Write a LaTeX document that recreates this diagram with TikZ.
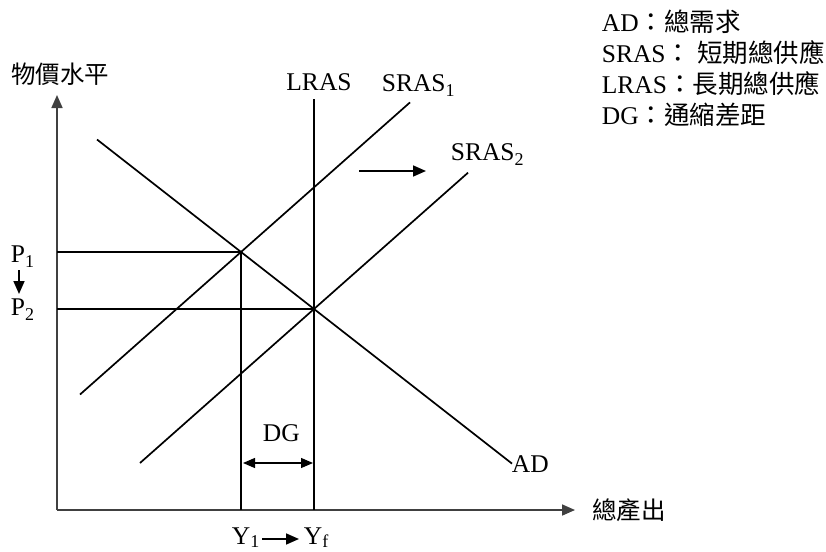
\documentclass[tikz,border=0pt]{standalone}
\usepackage{fontspec}
\setmainfont{Liberation Serif}
\newfontfamily\cjk{Noto Sans CJK TC}
\usetikzlibrary{arrows.meta}
\newcommand\sbs[1]{\raisebox{-5pt}{\fontsize{18}{18}\selectfont #1}}
\newcommand\sbsy[1]{\raisebox{-3pt}{\fontsize{18}{18}\selectfont #1}}
\begin{document}
\begin{tikzpicture}[x=1pt,y=-1pt, line width=1.7pt,
  lbl/.style={font=\fontsize{25.5}{30}\selectfont, inner sep=0pt},
  cjkl/.style={font=\fontsize{24.5}{30}\selectfont\cjk, inner sep=0pt},
  tipa/.style={-{Triangle[length=13pt,width=11pt]}},
  tipb/.style={{Triangle[length=12pt,width=10pt]}-{Triangle[length=12pt,width=10pt]}},
  axis/.style={draw=black!75, tipa},
  curve/.style={draw=black}]
\useasboundingbox (0,0) rectangle (826,551);
% axes
\coordinate (O) at (57,510);
\coordinate (ytop) at (57,95);
\coordinate (xend) at (575,510);
\draw[axis] (O) -- (ytop);
\draw[axis] (O) -- (xend);
% key points
\coordinate (E1) at (241,252);
\coordinate (E2) at (314,309);
\coordinate (AD1) at (97,139.5);
\coordinate (AD2) at (512,463.6);
\coordinate (S1a) at (80,394.5);
\coordinate (S1b) at (410,102.4);
\coordinate (S2a) at (140,463);
\coordinate (S2b) at (468,172.7);
\coordinate (LRt) at (314,99);
\coordinate (LRb) at (314,510);
\coordinate (P1a) at (57,252);
\coordinate (P2a) at (57,309);
\coordinate (Y1b) at (241,510);
% curves
\draw[curve] (AD1) -- (AD2);
\draw[curve] (S1a) -- (S1b);
\draw[curve] (S2a) -- (S2b);
\draw[curve] (LRt) -- (LRb);
\draw[curve] (P1a) -- (E1) -- (Y1b);
\draw[curve] (P2a) -- (E2);
% shift arrow
\coordinate (sh1) at (359,171);
\coordinate (sh2) at (426,171);
\draw[curve, tipa] (sh1) -- (sh2);
% DG arrow
\coordinate (dg1) at (243,463);
\coordinate (dg2) at (313,463);
\draw[curve, line width=1.2pt, tipb] (dg1) -- (dg2);
% P arrow
\coordinate (pa1) at (19,270);
\coordinate (pa2) at (19,294);
\draw[curve, tipa] (pa1) -- (pa2);
% Y arrow
\coordinate (ya1) at (262,539);
\coordinate (ya2) at (299,539);
\draw[curve, tipa] (ya1) -- (ya2);
% labels
\node[lbl] (lLRAS) at (319,82) {LRAS};
\node[lbl, anchor=base west] (lS1) at (381,91) {SRAS\sbs{1}};
\node[lbl, anchor=base west] (lS2) at (450,160) {SRAS\sbs{2}};
\node[lbl, anchor=base west] (lAD) at (511,472) {AD};
\node[lbl, anchor=base west] (lDG) at (262,441) {DG};
\node[lbl, anchor=base west] (lY1) at (231,544) {Y\sbsy{1}};
\node[lbl, anchor=base west] (lYf) at (303,544) {Y\sbsy{f}};
\node[lbl, anchor=base west] (lP1) at (10,262) {P\sbs{1}};
\node[lbl, anchor=base west] (lP2) at (10,315) {P\sbs{2}};
\node[cjkl] (ylab) at (60,74) {物價水平};
\node[cjkl] (xlab) at (629,510) {總產出};
% legend
\node[lbl, anchor=base west] (k1) at (601,32) {AD{\cjk ：總需求}};
\node[lbl, anchor=base west] (k2) at (601,63) {SRAS{\cjk ：}\hspace{6pt}{\cjk 短期總供應}};
\node[lbl, anchor=base west] (k3) at (601,93) {LRAS{\cjk ：長期總供應}};
\node[lbl, anchor=base west] (k4) at (601,124) {DG{\cjk ：通縮差距}};
\end{tikzpicture}
\end{document}
